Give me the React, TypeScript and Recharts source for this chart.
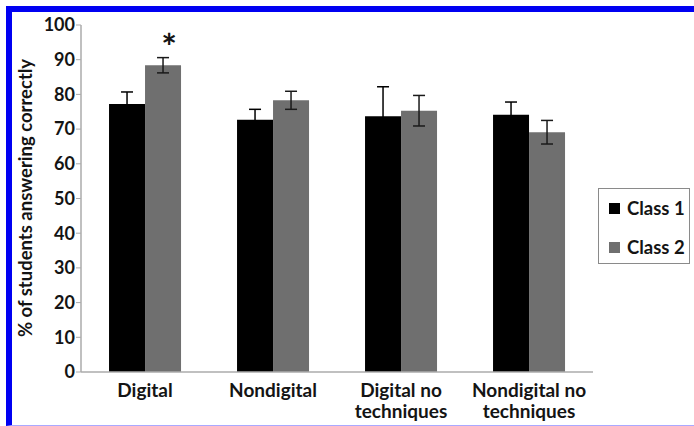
import React from 'react';
import { BarChart, Bar, XAxis, YAxis, ErrorBar, Legend, LabelList } from 'recharts';

const categories = ['Digital', 'Nondigital', 'Digital no\ntechniques', 'Nondigital no\ntechniques'];
const class1 = [77.2, 72.7, 73.7, 74.1];
const class1Err = [3.5, 3.0, 8.5, 3.7];
const class2 = [88.4, 78.3, 75.3, 69.1];
const class2Err = [2.2, 2.6, 4.4, 3.4];
const marks = ['*', '', '', ''];
const yTicks = [0, 10, 20, 30, 40, 50, 60, 70, 80, 90, 100];

const FONT = 'Lato, "Open Sans", sans-serif';
const TEXT = '#141414';
const AXIS = '#ababab';
const C1 = '#000000';
const C2 = '#6f6f6f';

const data = categories.map((name, i) => ({
  name,
  c1: class1[i],
  e1: class1Err[i],
  c2: class2[i],
  e2: class2Err[i],
  mark: marks[i],
}));

const XTick = ({ x, y, payload }: any) => {
  const lines = String(payload.value).split('\n');
  return (
    <text x={x} y={y} textAnchor="middle" fontFamily={FONT} fontWeight={700} fontSize={19} fill={TEXT}>
      {lines.map((l, i) => (
        <tspan key={i} x={x} dy={i === 0 ? 25 : 21}>{l}</tspan>
      ))}
    </text>
  );
};

const Star = ({ x, y, width, value }: any) => {
  if (!value) return null;
  return (
    <text x={x + width / 2 + 6} y={y - 5} textAnchor="middle" fontFamily={FONT} fontWeight={700} fontSize={37} fill={TEXT}>
      {value}
    </text>
  );
};

const YLabel = () => (
  <text
    transform="translate(32,198) rotate(-90)"
    textAnchor="middle"
    fontFamily={FONT}
    fontWeight={700}
    fontSize={18.5}
    fill={TEXT}
  >
    % of students answering correctly
  </text>
);

const LegendBox = ({ payload }: any) => (
  <div
    style={{
      position: 'relative',
      boxSizing: 'border-box',
      width: 92,
      height: 76,
      border: '1px solid #8a8a8a',
      background: '#fff',
      fontFamily: FONT,
      fontWeight: 700,
      fontSize: 18.5,
      color: TEXT,
    }}
  >
    {(payload || []).map((p: any, i: number) => (
      <div
        key={p.value}
        style={{ position: 'absolute', left: 10, top: i === 0 ? 7 : 46, height: 24, display: 'flex', alignItems: 'center', whiteSpace: 'nowrap' }}
      >
        <span style={{ display: 'inline-block', width: 11, height: 11, background: p.color, marginRight: 7 }} />
        <span>{p.value}</span>
      </div>
    ))}
  </div>
);

export default function App() {
  return (
    <div style={{ position: 'absolute', left: 0, top: 0, width: 694, height: 426, background: '#fff' }}>
      <BarChart
        width={694}
        height={426}
        data={data}
        margin={{ top: 25, right: 101, bottom: 0, left: 0 }}
        barCategoryGap="21.9%"
        barGap={0}
      >
        <XAxis
          dataKey="name"
          height={54}
          interval={0}
          tickLine={false}
          tickSize={0}
          tickMargin={0}
          axisLine={{ stroke: AXIS, strokeWidth: 1.5 }}
          tick={<XTick />}
        />
        <YAxis
          width={81}
          domain={[0, 100]}
          ticks={yTicks}
          interval={0}
          tickSize={5}
          tickMargin={1}
          tickLine={{ stroke: AXIS }}
          axisLine={{ stroke: AXIS, strokeWidth: 1.5 }}
          tick={{ fontFamily: FONT, fontWeight: 700, fontSize: 18, fill: TEXT }}
          label={{ content: () => <YLabel /> }}
        />
        <Legend
          layout="vertical"
          align="center"
          verticalAlign="middle"
          content={<LegendBox />}
          wrapperStyle={{ left: 598, top: 188, width: 92, height: 76 }}
        />
        <Bar dataKey="c1" name="Class 1" fill={C1} isAnimationActive={false}>
          <ErrorBar dataKey="e1" width={6} stroke="#000" strokeWidth={1.5} isAnimationActive={false} />
        </Bar>
        <Bar dataKey="c2" name="Class 2" fill={C2} isAnimationActive={false}>
          <ErrorBar dataKey="e2" width={6} stroke="#1a1a1a" strokeWidth={1.5} isAnimationActive={false} />
          <LabelList dataKey="mark" content={<Star />} />
        </Bar>
      </BarChart>
      <div
        style={{
          position: 'absolute',
          left: 6,
          top: 6,
          right: 0,
          bottom: 0,
          boxSizing: 'border-box',
          borderTop: '6px solid #0000f2',
          borderLeft: '6px solid #0000f2',
          borderBottom: '1px solid #a9a9ff',
          pointerEvents: 'none',
        }}
      />
    </div>
  );
}
